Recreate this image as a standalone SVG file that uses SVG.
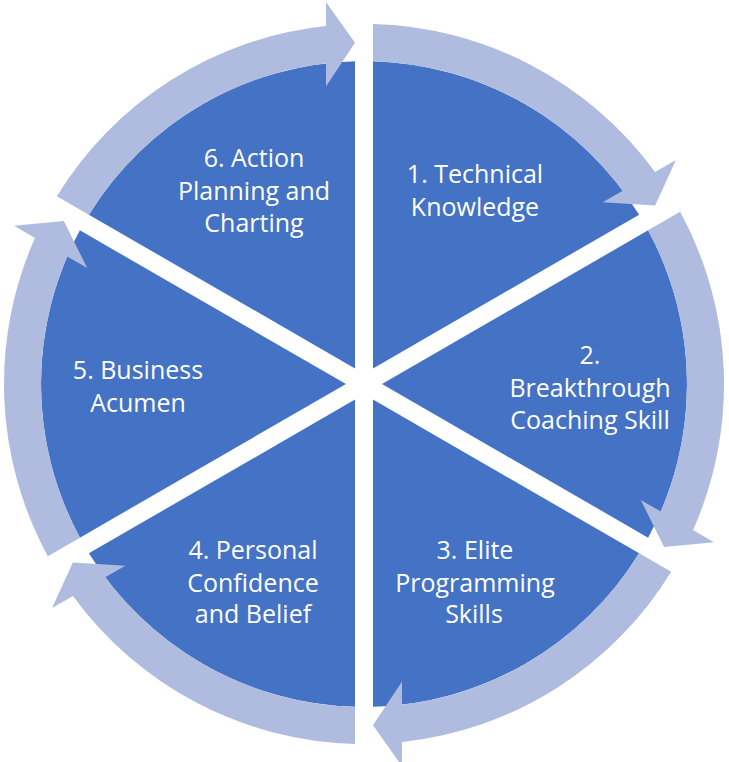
<svg xmlns="http://www.w3.org/2000/svg" width="729" height="762" viewBox="0 0 729 762">
<defs>
<style>
.seg{fill:#4472C4;}
.arr{fill:#AFBBDF;}
.lbl{fill:#FFFFFF;font-family:"Open Sans","Liberation Sans",sans-serif;font-size:25px;text-anchor:middle;}
</style>
<path id="segShape" d="M 9 -15.59 L 9 -322.87 A 323 323 0 0 1 275.11 -169.23 Z"/>
<path id="arrShape" d="M 9 -359.89 A 360 360 0 0 1 291.02 -211.91 L 311.91 -223.97 L 291.14 -178.48 L 238.71 -181.70 L 258.79 -193.29 A 323 323 0 0 0 9 -322.87 Z"/>
</defs>
<rect width="729" height="762" fill="#FFFFFF"/>
<g id="node1"><use href="#segShape" class="seg" transform="translate(364 384)"/></g>
<g id="node2"><use href="#segShape" class="seg" transform="translate(364 384) rotate(60)"/></g>
<g id="node3"><use href="#segShape" class="seg" transform="translate(364 384) rotate(120)"/></g>
<g id="node4"><use href="#segShape" class="seg" transform="translate(364 384) rotate(180)"/></g>
<g id="node5"><use href="#segShape" class="seg" transform="translate(364 384) rotate(240)"/></g>
<g id="node6"><use href="#segShape" class="seg" transform="translate(364 384) rotate(300)"/></g>
<g id="connectors">
<use href="#arrShape" class="arr" transform="translate(364 384)"/>
<use href="#arrShape" class="arr" transform="translate(364 384) rotate(60)"/>
<use href="#arrShape" class="arr" transform="translate(364 384) rotate(120)"/>
<use href="#arrShape" class="arr" transform="translate(364 384) rotate(180)"/>
<use href="#arrShape" class="arr" transform="translate(364 384) rotate(240)"/>
<use href="#arrShape" class="arr" transform="translate(364 384) rotate(300)"/>
</g>
<g id="labels">
<text class="lbl" x="475" y="183">1. Technical</text>
<text class="lbl" x="475" y="216">Knowledge</text>
<text class="lbl" x="590" y="364">2.</text>
<text class="lbl" x="590" y="397">Breakthrough</text>
<text class="lbl" x="590" y="429">Coaching Skill</text>
<text class="lbl" x="475" y="559">3. Elite</text>
<text class="lbl" x="475" y="592">Programming</text>
<text class="lbl" x="474" y="623">Skills</text>
<text class="lbl" x="253" y="559">4. Personal</text>
<text class="lbl" x="253" y="592">Confidence</text>
<text class="lbl" x="253" y="623">and Belief</text>
<text class="lbl" x="138" y="379">5. Business</text>
<text class="lbl" x="138" y="412">Acumen</text>
<text class="lbl" x="254" y="167">6. Action</text>
<text class="lbl" x="254" y="200">Planning and</text>
<text class="lbl" x="254" y="232">Charting</text>
</g>
</svg>
